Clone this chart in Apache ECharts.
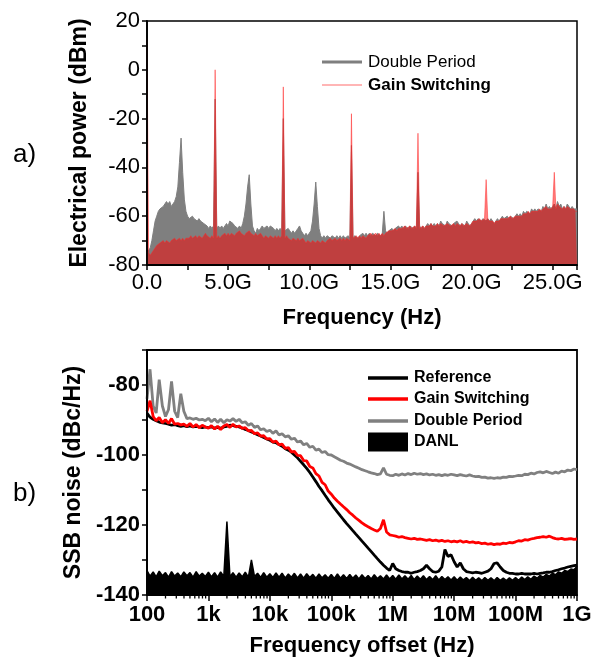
<!DOCTYPE html>
<html><head><meta charset="utf-8">
<script src="https://cdn.jsdelivr.net/npm/echarts@6/dist/echarts.min.js"></script>
<style>html,body{margin:0;padding:0;background:#fff}#c{width:596px;height:659px}</style>
</head><body><div id="c"></div><script>
// ---------- Panel a) electrical spectrum, sampled every 0.1 GHz from 0 to 26.5 GHz ----------
const specStepGHz = 0.1;
const specTickValues = [0, 5, 10, 15, 20, 25];
const specTickLabels = ['0.0', '5.0G', '10.0G', '15.0G', '20.0G', '25.0G'];
const doublePeriodSpec = [
-75,-74,-73,-70,-66,-62,-60,-58,-57,-57,
-56,-55,-54,-55,-54,-56,-55,-54,-52,-48,
-38,-28,-42,-53,-58,-60,-61,-61,-60,-61,
-61,-62,-61,-62,-62,-63,-63,-64,-65,-64,
-65,-64,-12,-65,-64,-65,-64,-65,-64,-63,
-64,-62,-62,-63,-64,-64,-65,-64,-65,-63,
-60,-55,-48,-43,-55,-64,-66,-67,-65,-66,
-65,-64,-65,-65,-64,-65,-64,-64,-65,-66,
-65,-66,-65,-66,-20,-66,-66,-65,-66,-67,
-66,-67,-66,-65,-64,-66,-67,-68,-67,-68,
-67,-66,-62,-55,-46,-56,-65,-68,-69,-68,
-69,-68,-68,-69,-68,-68,-69,-68,-69,-68,
-69,-68,-69,-69,-68,-69,-31,-69,-68,-68,
-69,-68,-68,-67,-68,-67,-68,-67,-68,-67,
-67,-68,-67,-67,-68,-67,-58,-66,-67,-66,
-66,-65,-66,-65,-65,-64,-65,-64,-65,-64,
-64,-65,-64,-64,-65,-64,-65,-42,-64,-65,
-64,-65,-64,-63,-64,-63,-64,-63,-64,-63,
-64,-62,-63,-63,-64,-62,-63,-63,-64,-63,
-63,-62,-63,-64,-63,-63,-64,-62,-63,-64,
-63,-62,-61,-62,-61,-61,-62,-61,-61,-62,
-61,-62,-61,-62,-63,-62,-61,-62,-61,-60,
-61,-61,-60,-61,-60,-60,-61,-60,-59,-60,
-59,-60,-58,-59,-58,-58,-59,-57,-58,-57,
-58,-57,-57,-58,-56,-57,-55,-57,-56,-57,
-56,-55,-57,-54,-56,-55,-57,-56,-57,-55,
-56,-57,-56,-57,-57,-57];
const gainSwitchSpec = [
13,-75,-76,-75,-74,-73,-72,-72,-71,-71,
-70,-71,-70,-70,-71,-70,-70,-69,-70,-70,
-69,-70,-69,-70,-69,-69,-69,-68,-69,-69,
-68,-69,-68,-68,-69,-68,-67,-68,-68,-69,
-68,-69,0,-69,-68,-69,-68,-68,-67,-68,
-67,-68,-67,-67,-68,-67,-67,-66,-67,-67,
-68,-67,-67,-66,-67,-67,-68,-67,-68,-68,
-67,-68,-69,-68,-68,-69,-68,-68,-69,-68,
-69,-68,-69,-68,-7,-69,-68,-69,-69,-70,
-69,-69,-70,-69,-70,-70,-69,-70,-71,-70,
-70,-71,-70,-70,-71,-70,-70,-71,-70,-70,
-71,-70,-70,-69,-70,-70,-69,-70,-70,-69,
-70,-69,-70,-69,-69,-70,-18,-69,-69,-68,
-69,-68,-69,-68,-68,-69,-68,-68,-67,-68,
-68,-67,-68,-67,-68,-67,-68,-67,-67,-66,
-66,-66,-66,-65,-66,-65,-65,-65,-65,-64,
-65,-65,-64,-65,-65,-64,-65,-26,-65,-65,
-64,-65,-64,-64,-64,-63,-64,-64,-64,-63,
-64,-63,-63,-64,-64,-63,-63,-64,-64,-63,
-64,-63,-63,-64,-63,-64,-64,-63,-63,-64,
-63,-62,-62,-62,-62,-61,-62,-62,-61,-45,
-61,-62,-62,-62,-63,-62,-62,-62,-61,-61,
-61,-61,-61,-61,-60,-61,-61,-60,-60,-60,
-60,-60,-59,-59,-59,-58,-59,-58,-58,-58,
-58,-58,-57,-58,-57,-57,-56,-57,-57,-57,
-56,-42,-57,-55,-56,-56,-57,-56,-57,-56,
-56,-57,-57,-57,-58,-58];

// ---------- Panel b) SSB phase noise vs offset frequency ----------
const offsetHz = [
100,112,126,141,158,178,200,224,251,282,316,355,398,447,501,562,631,708,794,891,
1e3,1.12e3,1.26e3,1.41e3,1.58e3,1.78e3,2e3,2.24e3,2.51e3,2.82e3,3.16e3,3.55e3,3.98e3,4.47e3,5.01e3,5.62e3,6.31e3,7.08e3,7.94e3,8.91e3,
1e4,1.12e4,1.26e4,1.41e4,1.58e4,1.78e4,2e4,2.24e4,2.51e4,2.82e4,3.16e4,3.55e4,3.98e4,4.47e4,5.01e4,5.62e4,6.31e4,7.08e4,7.94e4,8.91e4,
1e5,1.12e5,1.26e5,1.41e5,1.58e5,1.78e5,2e5,2.24e5,2.51e5,2.82e5,3.16e5,3.55e5,3.98e5,4.47e5,5.01e5,5.62e5,6.31e5,7.08e5,7.94e5,8.91e5,
1e6,1.12e6,1.26e6,1.41e6,1.58e6,1.78e6,2e6,2.24e6,2.51e6,2.82e6,3.16e6,3.55e6,3.98e6,4.47e6,5.01e6,5.62e6,6.31e6,7.08e6,7.94e6,8.91e6,
1e7,1.12e7,1.26e7,1.41e7,1.58e7,1.78e7,2e7,2.24e7,2.51e7,2.82e7,3.16e7,3.55e7,3.98e7,4.47e7,5.01e7,5.62e7,6.31e7,7.08e7,7.94e7,8.91e7,
1e8,1.12e8,1.26e8,1.41e8,1.58e8,1.78e8,2e8,2.24e8,2.51e8,2.82e8,3.16e8,3.55e8,3.98e8,4.47e8,5.01e8,5.62e8,6.31e8,7.08e8,7.94e8,8.91e8,
1e9];
const offsetTickValues = [1e2, 1e3, 1e4, 1e5, 1e6, 1e7, 1e8, 1e9];
const offsetTickLabels = ['100', '1k', '10k', '100k', '1M', '10M', '100M', '1G'];
const referenceNoise = [
-88,-89.2,-89.8,-90.2,-90.6,-90.8,-91,-91.2,-91.5,-91.3,-91.6,-91.8,-91.6,-91.9,-91.7,-92,-91.8,-92,-92.2,-92,
-92.2,-92,-92.3,-92.1,-92.4,-92,-91.8,-91.5,-91.6,-91.8,-92,-92.3,-92.7,-93,-93.4,-93.8,-94.2,-94.6,-95,-95.4,
-95.8,-96.3,-96.5,-97,-97.5,-98.2,-98.6,-99.2,-100,-100.8,-101.8,-102.8,-103.8,-105,-106.3,-107.6,-109,-110.2,-111.5,-112.8,
-114,-115.2,-116.3,-117.4,-118.5,-119.6,-120.6,-121.6,-122.6,-123.6,-124.6,-125.6,-126.6,-127.6,-128.6,-129.6,-130.6,-131.5,-132.3,-133,
-131,-132.5,-133,-133.3,-133.5,-133.5,-133.8,-133.5,-133.3,-133,-132.5,-131.5,-132.5,-133.3,-133.5,-133.2,-132,-127,-129,-128.5,
-130.5,-132,-130.8,-132.5,-133.3,-133.5,-133.7,-133.5,-133.6,-133.8,-133.5,-133.2,-132.5,-131,-130.8,-132,-133,-133.5,-133.8,-133.8,
-134,-134,-133.8,-134,-134,-134,-133.8,-134,-133.8,-133.7,-133.5,-133.5,-133.3,-133,-132.8,-132.5,-132.3,-132,-131.8,-131.6,
-131.5];
const gainSwitchNoise = [
-87.5,-84.5,-89,-90.2,-89.3,-90.8,-89.9,-91,-89.6,-91.2,-91,-91.4,-91.2,-91.8,-91,-92,-91.3,-92.2,-91.5,-92,
-92.3,-91.6,-92.6,-91.8,-92.7,-91.7,-91.3,-92.1,-91.2,-92,-91.7,-92.4,-92.2,-93.1,-93,-93.9,-93.7,-94.6,-94.5,-95.4,
-95.3,-96.3,-96,-97.1,-96.9,-98.1,-97.9,-99.1,-99,-100.1,-100.2,-101.6,-101.7,-103.3,-103.7,-105.3,-106,-107.8,-108.5,-110.3,
-111.2,-112.3,-113.2,-114,-114.8,-115.6,-116.5,-117.2,-118,-118.7,-119.4,-120,-120.5,-121,-121.4,-121.8,-121,-118.5,-122,-122.8,
-123,-123.2,-123.5,-123.3,-123.6,-123.8,-124,-123.8,-124.1,-124,-124.2,-124.4,-124.2,-124.5,-124.3,-124.6,-124.4,-124.7,-124.5,-124.8,
-124.6,-124.8,-124.5,-124.9,-124.7,-125,-124.8,-125.1,-125,-125.3,-125.2,-125.5,-125.3,-125.6,-125.4,-125.5,-125.2,-125.3,-125,-125.1,
-124.8,-124.5,-124.6,-124.2,-124.3,-124,-123.8,-123.6,-123.5,-123.3,-123.5,-123.2,-123.6,-123.9,-124,-123.8,-124.1,-124,-123.9,-124.1,
-124];
const doublePeriodNoise = [
-84,-75.5,-86,-88,-78.5,-86,-89,-87,-79,-87.5,-89.3,-82.5,-87.5,-89.6,-89.4,-89.8,-89.5,-90,-89.8,-90.2,
-89.5,-90.5,-89.7,-90.7,-89.8,-90.8,-89.9,-90.3,-89.6,-90.4,-89.8,-90.8,-90.5,-91.5,-91,-92.1,-91.7,-92.8,-92.5,-93.3,
-92.9,-93.8,-93.1,-94.3,-93.9,-94.8,-94.5,-95.5,-95.2,-96.3,-96,-97.1,-96.7,-97.8,-97.5,-98.6,-98.3,-99.3,-99,-99.9,
-100,-100.5,-101,-101.5,-101.8,-102.3,-102.6,-103,-103.4,-103.8,-104.2,-104.5,-104.8,-105.1,-105.3,-105.6,-105.4,-103.7,-105.5,-105.8,
-105.9,-105.5,-105.8,-105.4,-105.7,-105.3,-105.6,-105.2,-105.5,-105.3,-105.6,-105.4,-105.7,-105.5,-105.8,-105.6,-105.9,-105.6,-105.8,-105.5,
-105.7,-105.9,-105.6,-105.8,-106,-105.7,-106,-106.2,-106.1,-106.4,-106.3,-106.6,-106.5,-106.7,-106.5,-106.6,-106.3,-106.4,-106.1,-106.2,
-106,-105.8,-105.9,-105.5,-105.6,-105.2,-105.4,-105,-104.8,-105.1,-104.7,-105,-105.3,-104.9,-105.2,-104.6,-104.8,-104.3,-104.5,-104,
-104.2];
const danlNoise = [
-133,-134.6,-133.4,-134.8,-133.2,-134.5,-133.6,-134.9,-133.3,-134.6,-133.7,-134.8,-133.4,-134.5,-133.6,-134.9,-133.3,-134.6,-133.8,-134.7,
-133.5,-134.8,-133.6,-134.9,-133.4,-134.7,-119,-134.8,-133.6,-134.9,-133.7,-134.8,-133.5,-134.9,-130,-134.7,-133.8,-135,-133.6,-134.9,
-133.9,-135,-133.7,-134.9,-133.8,-135.1,-134,-134.9,-133.8,-135.1,-134,-135.2,-133.9,-135,-134.1,-135.2,-134,-135.1,-134.2,-135.2,
-134.1,-135.3,-134,-135.2,-134.2,-135.3,-134.1,-135.2,-134.3,-135.4,-134.2,-135.3,-134.4,-135.4,-134.2,-135.3,-134.5,-135.4,-134.3,-135.4,
-134.4,-135.5,-134.3,-135.4,-134.5,-135.5,-134.4,-135.6,-134.6,-135.5,-134.5,-135.6,-134.7,-135.6,-134.5,-135.7,-134.7,-135.6,-134.8,-135.7,
-134.8,-135.8,-134.9,-135.7,-135,-135.9,-134.9,-135.8,-135.1,-135.9,-135,-135.8,-135.1,-135.9,-135,-135.8,-135.2,-135.9,-135.1,-135.8,
-135,-135.8,-134.9,-135.6,-134.8,-135.5,-134.6,-135.2,-134.4,-134.9,-134.1,-134.6,-133.8,-134.2,-133.4,-133.8,-133,-133.3,-132.6,-132.8,
-131.8];

// ---------- build ----------
const FONT = '"Liberation Sans", Arial, sans-serif';
const pairsStep = (arr, step) => arr.map((v, i) => [Math.round(i * step * 10) / 10, v]);
const pairsX = (xs, arr) => arr.map((v, i) => [xs[i], v]);
const minorLogTicks = [];
for (let d = 0; d < offsetTickValues.length - 1; d++)
  for (let m = 2; m <= 9; m++) minorLogTicks.push([offsetTickValues[d] * m, -140]);

const axisLine = { show: true, onZero: false, lineStyle: { color: '#000', width: 1.8 } };
const tick = { show: true, length: 5, lineStyle: { color: '#000', width: 1.5 } };
const lbl = (fmt, extra) => Object.assign({ color: '#000', fontFamily: FONT, fontSize: 22, formatter: fmt, margin: 7 }, extra || {});
const nameStyle = (fs) => ({ color: '#000', fontFamily: FONT, fontSize: fs, fontWeight: 'bold' });

function legendItem(name, left, centerY, icon, color, w, h, bold, fs) {
  const lh = Math.max(h, fs + 2);
  return {
    left: left, top: centerY - lh / 2, padding: 0, selectedMode: false,
    itemWidth: w, itemHeight: h, itemGap: 0,
    data: [{ name: name, icon: icon, itemStyle: { color: color, borderWidth: 0 } }],
    textStyle: { color: '#000', fontFamily: FONT, fontSize: fs, fontWeight: bold ? 'bold' : 'normal', lineHeight: lh, padding: [0, 0, 0, 1] }
  };
}

const chart = echarts.init(document.getElementById('c'), null, { renderer: 'canvas' });
chart.setOption({
  animation: false,
  backgroundColor: '#fff',
  title: [
    { text: 'a)', left: 8, top: 137, textStyle: { fontFamily: FONT, fontSize: 26, fontWeight: 'normal', color: '#000' } },
    { text: 'b)', left: 8, top: 476, textStyle: { fontFamily: FONT, fontSize: 26, fontWeight: 'normal', color: '#000' } }
  ],
  grid: [
    { left: 147, right: 19, top: 21, height: 244, show: true, borderColor: '#000', borderWidth: 1.5, backgroundColor: 'transparent' },
    { left: 147, right: 19, top: 350, height: 245, show: true, borderColor: '#000', borderWidth: 1.8, backgroundColor: 'transparent' }
  ],
  legend: [
    legendItem('Double Period', 322, 62, 'rect', '#7f7f7f', 40, 3, false, 17),
    legendItem('Gain Switching', 322, 85, 'rect', '#ff9c9c', 40, 1.5, true, 17),
    legendItem('Reference', 368, 378, 'rect', '#000', 40, 3.5, true, 16),
    legendItem('Gain Switching', 368, 399, 'rect', '#ff0000', 40, 3.5, true, 16),
    legendItem('Double Period', 368, 421, 'rect', '#808080', 40, 3.5, true, 16),
    legendItem('DANL', 368, 442, 'rect', '#000', 40, 19, true, 16)
  ],
  xAxis: [
    { gridIndex: 0, type: 'value', min: 0, max: 26.5, interval: 2.5, z: 10,
      name: 'Frequency (Hz)', nameLocation: 'middle', nameGap: 42, nameTextStyle: nameStyle(22),
      axisLine: axisLine, axisTick: tick, splitLine: { show: false },
      axisLabel: lbl(v => { const k = specTickValues.indexOf(Math.round(v * 10) / 10); return k >= 0 ? specTickLabels[k] : ''; }) },
    { gridIndex: 1, type: 'log', logBase: 10, min: 100, max: 1e9, splitNumber: 7, z: 10,
      name: 'Frequency offset (Hz)', nameLocation: 'middle', nameGap: 40, nameTextStyle: nameStyle(22),
      axisLine: axisLine, axisTick: Object.assign({}, tick, { length: 6 }), splitLine: { show: false }, minorTick: { show: false },
      axisLabel: lbl(v => { const k = Math.round(Math.log10(v)) - 2; return (k >= 0 && k < offsetTickLabels.length) ? offsetTickLabels[k] : ''; }, { fontWeight: 'bold', margin: 9 }) }
  ],
  yAxis: [
    { gridIndex: 0, type: 'value', min: -80, max: 20, interval: 10, z: 10,
      name: 'Electrical power (dBm)', nameLocation: 'middle', nameGap: 56, nameTextStyle: nameStyle(23),
      axisLine: axisLine, axisTick: tick, splitLine: { show: false },
      axisLabel: lbl(v => (v % 20 === 0 ? String(v) : '')) },
    { gridIndex: 1, type: 'value', min: -140, max: -70, interval: 10, z: 10,
      name: 'SSB noise (dBc/Hz)', nameLocation: 'middle', nameGap: 56, nameTextStyle: nameStyle(23),
      axisLine: axisLine, axisTick: tick, splitLine: { show: false },
      axisLabel: lbl(v => (v % 20 === 0 && v <= -80 ? String(v) : ''), { fontWeight: 'bold' }) }
  ],
  series: [
    { name: 'Double Period', type: 'line', xAxisIndex: 0, yAxisIndex: 0, symbol: 'none', z: 2,
      data: pairsStep(doublePeriodSpec, specStepGHz),
      itemStyle: { color: '#7f7f7f' }, lineStyle: { color: '#7f7f7f', width: 1 },
      areaStyle: { color: '#7f7f7f', opacity: 1, origin: 'start' } },
    { name: 'Gain Switching', type: 'line', xAxisIndex: 0, yAxisIndex: 0, symbol: 'none', z: 3,
      data: pairsStep(gainSwitchSpec, specStepGHz),
      itemStyle: { color: '#ff6666' }, lineStyle: { color: 'rgba(255,40,40,0.5)', width: 1 },
      areaStyle: { color: 'rgba(255,0,0,0.5)', opacity: 1, origin: 'start' } },

    { name: 'DANL', type: 'line', xAxisIndex: 1, yAxisIndex: 1, symbol: 'none', z: 2,
      data: pairsX(offsetHz, danlNoise),
      itemStyle: { color: '#000' }, lineStyle: { color: '#000', width: 1.5 },
      areaStyle: { color: '#000', opacity: 1, origin: 'start' } },
    { name: 'Reference', type: 'line', xAxisIndex: 1, yAxisIndex: 1, symbol: 'none', z: 3,
      data: pairsX(offsetHz, referenceNoise),
      itemStyle: { color: '#000' }, lineStyle: { color: '#000', width: 2.8 } },
    { name: 'Double Period', type: 'line', xAxisIndex: 1, yAxisIndex: 1, symbol: 'none', z: 3,
      data: pairsX(offsetHz, doublePeriodNoise),
      itemStyle: { color: '#808080' }, lineStyle: { color: '#808080', width: 2.8 } },
    { name: 'Gain Switching', type: 'line', xAxisIndex: 1, yAxisIndex: 1, symbol: 'none', z: 4,
      data: pairsX(offsetHz, gainSwitchNoise),
      itemStyle: { color: '#ff0000' }, lineStyle: { color: '#ff0000', width: 2.8 } },
    { type: 'custom', xAxisIndex: 1, yAxisIndex: 1, silent: true, clip: false, z: 11,
      data: minorLogTicks,
      renderItem: (params, api) => {
        const p = api.coord([api.value(0), api.value(1)]);
        return { type: 'line', shape: { x1: p[0], y1: p[1], x2: p[0], y2: p[1] + 3.5 }, style: { stroke: '#000', lineWidth: 1.3 } };
      } }
  ]
});
</script></body></html>
